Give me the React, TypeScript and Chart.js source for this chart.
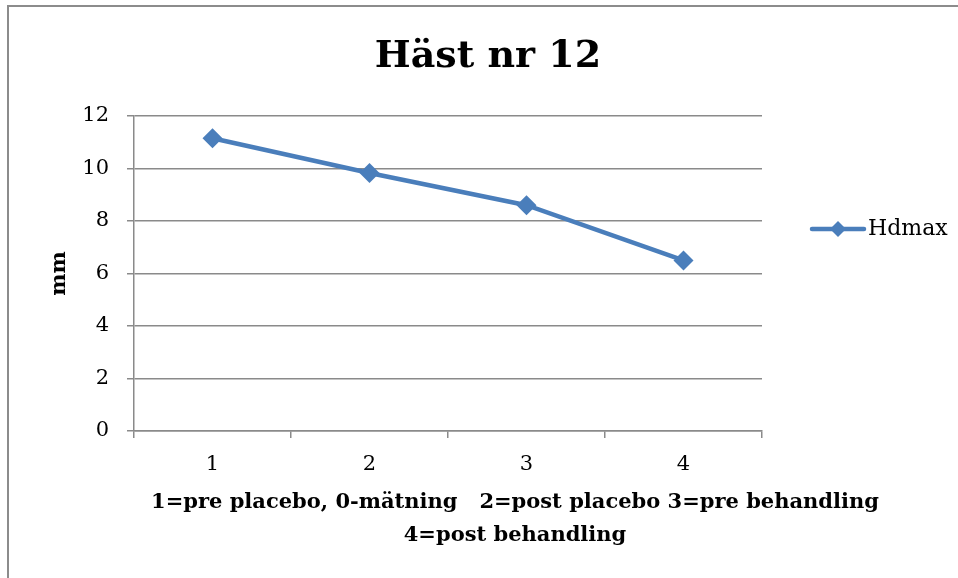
import React, { useEffect, useRef } from 'react';
import { Chart, registerables } from 'chart.js';

Chart.register(...registerables);

const categories = ['1', '2', '3', '4'];
const hdmax = [11.15, 9.83, 8.6, 6.5];
const seriesName = 'Hdmax';
const chartTitle = 'Häst nr 12';
const yTitle = 'mm';
const xTitleLines = ['1=pre placebo, 0-mätning   2=post placebo 3=pre behandling', '4=post behandling'];
const yMin = 0;
const yMax = 12;
const yStep = 2;

const FONT = '"DejaVu Serif", "Liberation Serif", serif';
const LINE_COLOR = '#4A7EBB';
const GRID = '#8a8a8a';

const decor = {
  id: 'decor',
  beforeDraw(chart: any) {
    const ctx = chart.ctx;
    ctx.save();
    ctx.fillStyle = '#fff';
    ctx.fillRect(0, 0, chart.width, chart.height);
    ctx.strokeStyle = '#8c8c8c';
    ctx.lineWidth = 2;
    ctx.beginPath();
    ctx.moveTo(8, chart.height);
    ctx.lineTo(8, 6);
    ctx.lineTo(chart.width, 6);
    ctx.stroke();
    ctx.restore();
  },
  afterDraw(chart: any) {
    const ctx = chart.ctx;
    const ca = chart.chartArea;
    ctx.save();
    ctx.fillStyle = '#000';
    ctx.textBaseline = 'middle';
    ctx.textAlign = 'center';
    // title
    ctx.font = `bold 38px ${FONT}`;
    ctx.fillText(chartTitle, 488, 57);
    // y title
    ctx.save();
    ctx.translate(60, (ca.top + ca.bottom) / 2);
    ctx.rotate(-Math.PI / 2);
    ctx.font = `bold 21px ${FONT}`;
    ctx.fillText(yTitle, 0, 0);
    ctx.restore();
    // x title
    ctx.font = `bold 21px ${FONT}`;
    ctx.fillText(xTitleLines[0], 515, 503);
    ctx.fillText(xTitleLines[1], 515, 536);
    // legend
    const ly = 229;
    ctx.strokeStyle = LINE_COLOR;
    ctx.lineWidth = 4.5;
    ctx.lineCap = 'round';
    ctx.beginPath();
    ctx.moveTo(812, ly);
    ctx.lineTo(864, ly);
    ctx.stroke();
    ctx.fillStyle = LINE_COLOR;
    ctx.beginPath();
    ctx.moveTo(838, ly - 8);
    ctx.lineTo(846, ly);
    ctx.lineTo(838, ly + 8);
    ctx.lineTo(830, ly);
    ctx.closePath();
    ctx.fill();
    ctx.fillStyle = '#000';
    ctx.textAlign = 'left';
    ctx.font = `22px ${FONT}`;
    ctx.fillText(seriesName, 868, ly);
    ctx.restore();
  },
};

export default function App() {
  const ref = useRef<HTMLCanvasElement>(null);
  useEffect(() => {
    const chart = new Chart(ref.current!, {
      type: 'line',
      data: {
        labels: categories,
        datasets: [
          {
            label: seriesName,
            data: hdmax,
            borderColor: LINE_COLOR,
            backgroundColor: LINE_COLOR,
            borderWidth: 4.5,
            pointStyle: 'rectRot',
            pointRadius: 10,
            pointHoverRadius: 10,
            pointBorderWidth: 0,
            tension: 0,
          },
        ],
      },
      options: {
        responsive: false,
        animation: false,
        layout: { padding: { left: 0, top: 116, right: 196, bottom: 0 } },
        plugins: { legend: { display: false }, title: { display: false }, tooltip: { enabled: false } },
        scales: {
          x: {
            type: 'category',
            offset: true,
            grid: { offset: true, drawOnChartArea: false, drawTicks: true, tickLength: 7, color: GRID, lineWidth: 1.5 },
            border: { color: GRID, width: 1.5 },
            ticks: { color: '#000', font: { family: FONT, size: 21 }, padding: 14, maxRotation: 0 },
            afterFit: (s: any) => { s.height = 147; },
          },
          y: {
            min: yMin,
            max: yMax,
            grid: { color: GRID, lineWidth: 1.5, tickLength: 7 },
            border: { color: GRID, width: 1.5 },
            ticks: { stepSize: yStep, color: '#000', font: { family: FONT, size: 21 }, padding: 18 },
            afterFit: (s: any) => { s.width = 134; },
          },
        },
      },
      plugins: [decor],
    });
    return () => chart.destroy();
  }, []);
  return (
    <div style={{ position: 'fixed', left: 0, top: 0, width: 958, height: 578 }}>
      <canvas ref={ref} width={958} height={578} style={{ width: 958, height: 578 }} />
    </div>
  );
}
